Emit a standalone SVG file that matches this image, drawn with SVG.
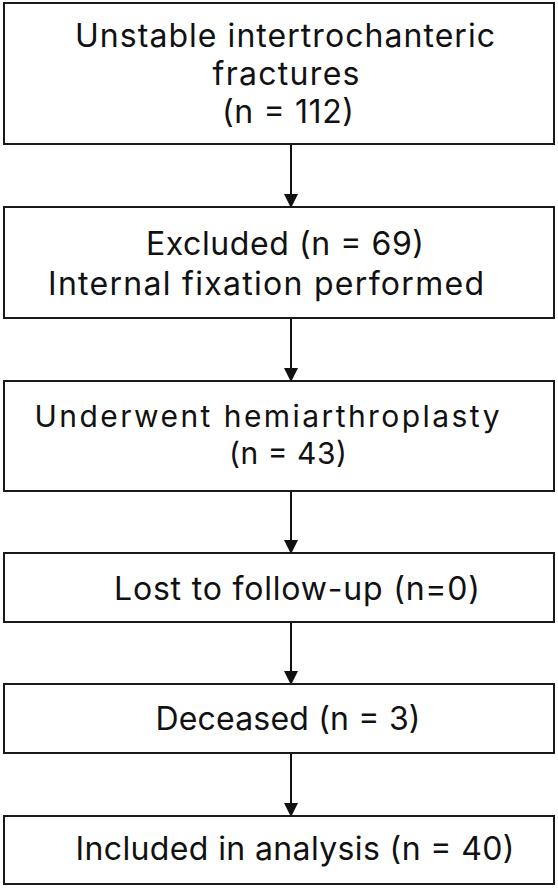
<svg xmlns="http://www.w3.org/2000/svg" width="558" height="888" viewBox="0 0 558 888">
<defs>
<style>
.box{fill:#fff;stroke:#1a1a1a;stroke-width:2}
.t{font-family:Inter,"Liberation Sans",sans-serif;font-size:32px;fill:#111;text-anchor:middle}
.s{font-size:30px}
.c{stroke:#111;stroke-width:2;fill:none;marker-end:url(#ah)}
</style>
<marker id="ah" markerUnits="userSpaceOnUse" markerWidth="14" markerHeight="15" refX="13" refY="7" orient="auto" viewBox="0 0 14 14">
<path d="M0,0 L14,7 L0,14 Z" fill="#111"/>
</marker>
</defs>
<rect width="558" height="888" fill="#fff"/>
<g id="connectors">
<line class="c" x1="291" y1="145" x2="291" y2="207"/>
<line class="c" x1="291" y1="319" x2="291" y2="381"/>
<line class="c" x1="291" y1="492" x2="291" y2="553"/>
<line class="c" x1="291" y1="623" x2="291" y2="684"/>
<line class="c" x1="291" y1="754" x2="291" y2="816"/>
</g>
<g id="n1">
<rect class="box" x="4" y="3" width="550" height="141"/>
<text class="t" x="285" y="47" textLength="420">Unstable intertrochanteric</text>
<text class="t" x="286" y="85" textLength="147">fractures</text>
<text class="t" x="288" y="123" textLength="132">(n = 112)</text>
</g>
<g id="n2">
<rect class="box" x="4" y="207" width="550" height="111"/>
<text class="t" x="285" y="255" textLength="278">Excluded (n = 69)</text>
<text class="t" x="266" y="295" textLength="436">Internal fixation performed</text>
</g>
<g id="n3">
<rect class="box" x="4" y="381" width="550" height="110"/>
<text class="t s" x="267" y="427" textLength="465">Underwent hemiarthroplasty</text>
<text class="t s" x="288" y="464" textLength="118">(n = 43)</text>
</g>
<g id="n4">
<rect class="box" x="4" y="553" width="550" height="69"/>
<text class="t" x="297" y="600" textLength="366">Lost to follow-up (n=0)</text>
</g>
<g id="n5">
<rect class="box" x="4" y="684" width="550" height="69"/>
<text class="t" x="288" y="730" textLength="265">Deceased (n = 3)</text>
</g>
<g id="n6">
<rect class="box" x="4" y="816" width="550" height="68"/>
<text class="t" x="295" y="860" textLength="439">Included in analysis (n = 40)</text>
</g>
</svg>
